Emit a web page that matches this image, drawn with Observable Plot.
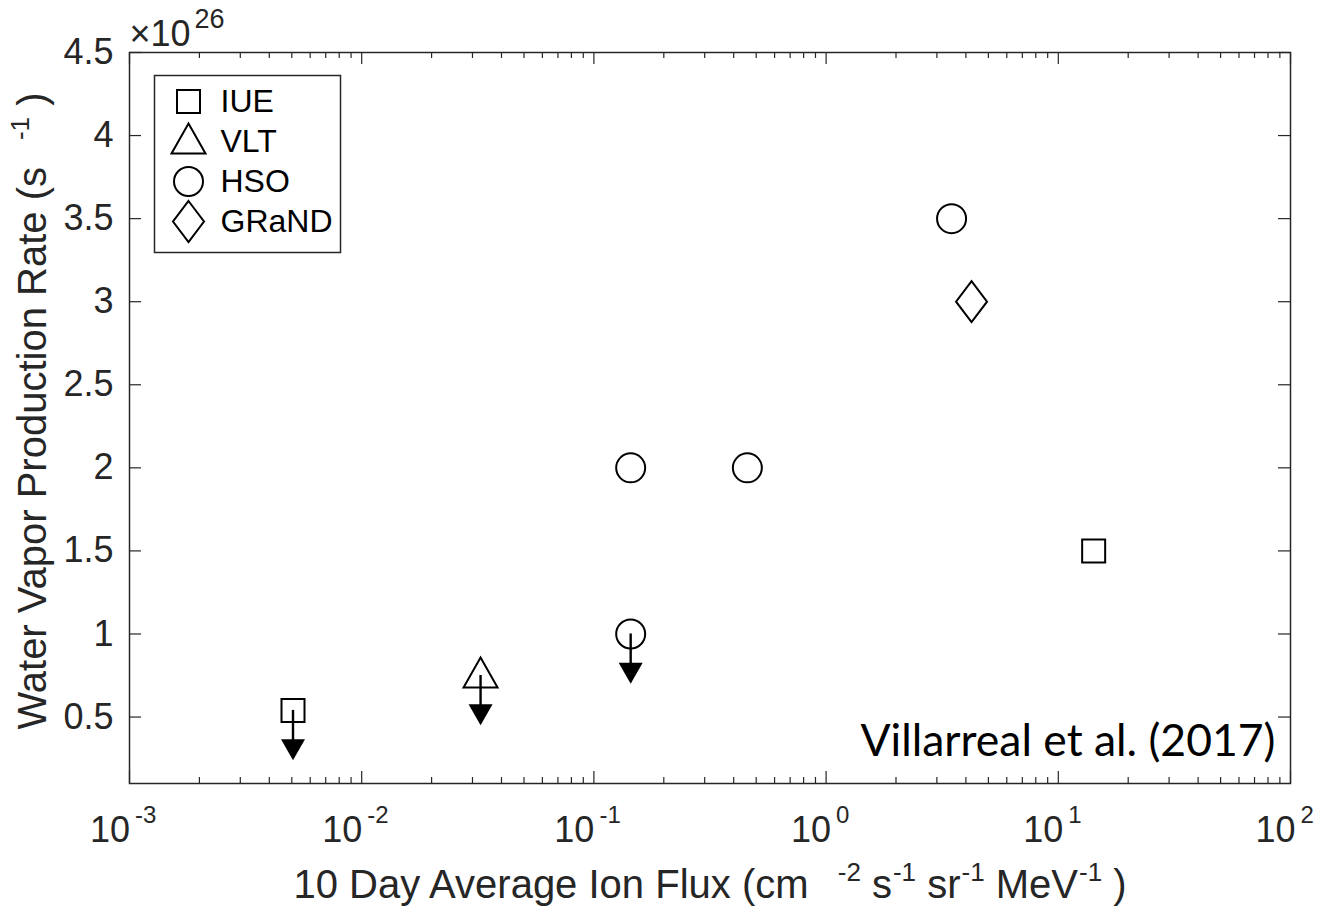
<!DOCTYPE html>
<html><head><meta charset="utf-8">
<script src="https://cdn.jsdelivr.net/npm/d3@7"></script>
<script src="https://cdn.jsdelivr.net/npm/@observablehq/plot@0.6"></script>
<style>html,body{margin:0;padding:0;background:#fff} #chart{width:1322px;height:907px}</style>
</head><body><div id="chart"></div>
<script>
// ---- data ----
const source = ["IUE", "IUE", "VLT", "HSO", "HSO", "HSO", "HSO", "GRaND"];
const flux = [0.00506, 14.2, 0.0325, 0.144, 0.144, 0.458, 3.47, 4.23];
const rate = [0.54, 1.5, 0.75, 2.0, 1.0, 2.0, 3.5, 3.0];          // x 10^26 s^-1
const upperLimit = [true, false, true, false, true, false, false, false];
const arrowLength = 0.3;                                            // upper-limit arrow, data units
const legendLabels = ["IUE", "VLT", "HSO", "GRaND"];
const xTickExponents = [-3, -2, -1, 0, 1, 2];
const yTickValues = [0.5, 1, 1.5, 2, 2.5, 3, 3.5, 4, 4.5];
const yTickLabels = ["0.5", "1", "1.5", "2", "2.5", "3", "3.5", "4", "4.5"];
const yMultiplier = ["\u00d710", "26"];
const xLabelParts = ["10 Day Average Ion Flux (cm", "-2", "s", "-1", "sr", "-1", "MeV", "-1", ")"];
const xLabelSup = [false, true, false, true, false, true, false, true, false];
const yLabelParts = ["Water Vapor Production Rate (s", "-1", ")"];
const yLabelSup = [false, true, false];
const annotation = "Villarreal et al. (2017)";

// ---- layout ----
const W = 1322, H = 907, mL = 129, mR = 32, mT = 52, mB = 124;
const plotW = W - mL - mR, plotH = H - mT - mB;
const axisColor = "#262626";
const font = "'Liberation Sans', Arial, Helvetica, sans-serif";
const labelSize = 40, supSize = 26, supGap = 27;

const points = source.map((s, i) => ({source: s, flux: flux[i], rate: rate[i], limit: upperLimit[i], tip: rate[i] - arrowLength}));
const limits = points.filter(d => d.limit);

const xMajor = xTickExponents.map(e => 10 ** e);
const xMinor = d3.range(-3, 2).flatMap(e => d3.range(2, 10).map(m => m * 10 ** e));

// text measuring for TeX-like label layout
const ctx = document.createElement("canvas").getContext("2d");
function tw(t, size) { ctx.font = `${size}px ${font}`; return ctx.measureText(t).width; }
function layoutLabel(parts, sups) {
  let pos = 0; const out = [];
  parts.forEach((t, i) => {
    if (i > 0 && sups[i] && i === 1) pos += supGap;          // MATLAB's gap before first superscript
    else if (i > 0 && !sups[i]) pos += tw(" ", labelSize);   // word space before next unit
    else if (i > 0 && sups[i]) pos += 1;
    out.push({t, sup: sups[i], pos});
    pos += tw(t, sups[i] ? supSize : labelSize);
  });
  return {items: out, total: pos};
}
const xLab = layoutLabel(xLabelParts, xLabelSup);
const yLab = layoutLabel(yLabelParts, yLabelSup);
const cx = (mL + W - mR) / 2, cy = (mT + H - mB) / 2;
const xLabelStart = 709.5 - xLab.total / 2;
const yLabelStart = 729;

// marker shapes (MATLAB-like)
const symbols = {
  IUE: {draw(c) { c.rect(-11.5, -11.5, 23, 23); }},
  VLT: {draw(c) { c.moveTo(0, -18); c.lineTo(17, 12); c.lineTo(-17, 12); c.closePath(); }},
  HSO: {draw(c) { c.moveTo(14.5, 0); c.arc(0, 0, 14.5, 0, 2 * Math.PI); c.closePath(); }},
  GRaND: {draw(c) { c.moveTo(0, -20.5); c.lineTo(15.5, 0); c.lineTo(0, 20.5); c.lineTo(-15.5, 0); c.closePath(); }}
};
const arrowHead = {draw(c) { c.moveTo(-12, -21); c.lineTo(12, -21); c.lineTo(0, 0); c.closePath(); }};

const tickStyle = {stroke: axisColor, strokeWidth: 1.2};
const neg = xTickExponents.filter(e => e < 0), pos = xTickExponents.filter(e => e >= 0);
const txt = {lineAnchor: "middle", fill: axisColor};

const plot = Plot.plot({
  width: W, height: H,
  marginLeft: mL, marginRight: mR, marginTop: mT, marginBottom: mB,
  x: {type: "log", domain: [1e-3, 1e2], axis: null},
  y: {domain: [0.1, 4.5], axis: null},
  style: {fontFamily: font, background: "white", color: axisColor},
  marks: [
    // inward ticks on all four sides
    Plot.ruleX(xMajor, {x: d => d, insetTop: plotH - 12, ...tickStyle}),
    Plot.ruleX(xMajor, {x: d => d, insetBottom: plotH - 12, ...tickStyle}),
    Plot.ruleX(xMinor, {x: d => d, insetTop: plotH - 6, ...tickStyle}),
    Plot.ruleX(xMinor, {x: d => d, insetBottom: plotH - 6, ...tickStyle}),
    Plot.ruleY(yTickValues, {y: d => d, insetRight: plotW - 12, ...tickStyle}),
    Plot.ruleY(yTickValues, {y: d => d, insetLeft: plotW - 12, ...tickStyle}),
    Plot.frame({stroke: axisColor, strokeWidth: 1.5}),

    // x tick labels 10^n
    Plot.text(neg, {x: e => 10 ** e, text: () => "10", frameAnchor: "bottom", textAnchor: "end", dx: 0.5, dy: 46.5, fontSize: 36, ...txt}),
    Plot.text(neg, {x: e => 10 ** e, text: e => String(e), frameAnchor: "bottom", textAnchor: "start", dx: 5.5, dy: 32.3, fontSize: 24, ...txt}),
    Plot.text(pos, {x: e => 10 ** e, text: () => "10", frameAnchor: "bottom", textAnchor: "end", dx: 5, dy: 46.5, fontSize: 36, ...txt}),
    Plot.text(pos, {x: e => 10 ** e, text: e => String(e), frameAnchor: "bottom", textAnchor: "start", dx: 10, dy: 32.3, fontSize: 24, ...txt}),

    // y tick labels
    Plot.text(yTickValues, {y: d => d, text: (d, i) => yTickLabels[i], frameAnchor: "left", textAnchor: "end", dx: -16, fontSize: 36, ...txt}),
    // x 10^26 multiplier
    Plot.text([yMultiplier[0]], {frameAnchor: "top-left", text: d => d, textAnchor: "start", dx: 0, dy: -18.5, fontSize: 36, ...txt}),
    Plot.text([yMultiplier[1]], {frameAnchor: "top-left", text: d => d, textAnchor: "start", dx: 65, dy: -33.5, fontSize: 27, ...txt}),

    // x label (TeX-like pieces)
    ...xLab.items.map(p => Plot.text([p.t], {
      frameAnchor: "bottom", text: d => d, textAnchor: "start",
      dx: xLabelStart + p.pos - cx, dy: p.sup ? 88.7 : 101.2, fontSize: p.sup ? supSize : labelSize, ...txt
    })),
    // y label (rotated pieces)
    ...yLab.items.map(p => Plot.text([p.t], {
      frameAnchor: "left", text: d => d, rotate: -90, textAnchor: "start",
      dx: p.sup ? 20 - mL : 33 - mL, dy: yLabelStart - p.pos - cy, fontSize: p.sup ? supSize : labelSize, ...txt
    })),

    // upper-limit arrows: shafts
    Plot.ruleX(limits, {x: "flux", y1: "rate", y2: "tip", insetBottom: 18, stroke: "black", strokeWidth: 2.4}),
    // data markers
    ...legendLabels.map(name => Plot.dot(points.filter(d => d.source === name), {
      x: "flux", y: "rate", symbol: symbols[name], fill: "none", stroke: "black", strokeWidth: 2
    })),
    // arrow heads
    Plot.dot(limits, {x: "flux", y: "tip", symbol: arrowHead, fill: "black", stroke: "none"}),

    // legend
    Plot.frame({insetLeft: 25, insetTop: 23, insetRight: 950, insetBottom: 531, stroke: axisColor, strokeWidth: 1.5, fill: "white"}),
    ...legendLabels.map((name, i) => Plot.dot([name], {frameAnchor: "top-left", dx: 59, dy: 49 + 40 * i, symbol: symbols[name], fill: "none", stroke: "black", strokeWidth: 2})),
    ...legendLabels.map((name, i) => Plot.text([name], {frameAnchor: "top-left", text: d => d, textAnchor: "start", dx: 91, dy: 49 + 40 * i, fontSize: 32, lineAnchor: "middle", fill: "black"})),

    // annotation
    Plot.text([annotation], {frameAnchor: "bottom-right", text: d => d, textAnchor: "end", dx: -15, dy: -42, fontSize: 44.5, lineAnchor: "middle", fontFamily: "Lato, 'Open Sans', sans-serif", fill: "black"})
  ]
});
document.getElementById("chart").appendChild(plot);
</script>
</body></html>
